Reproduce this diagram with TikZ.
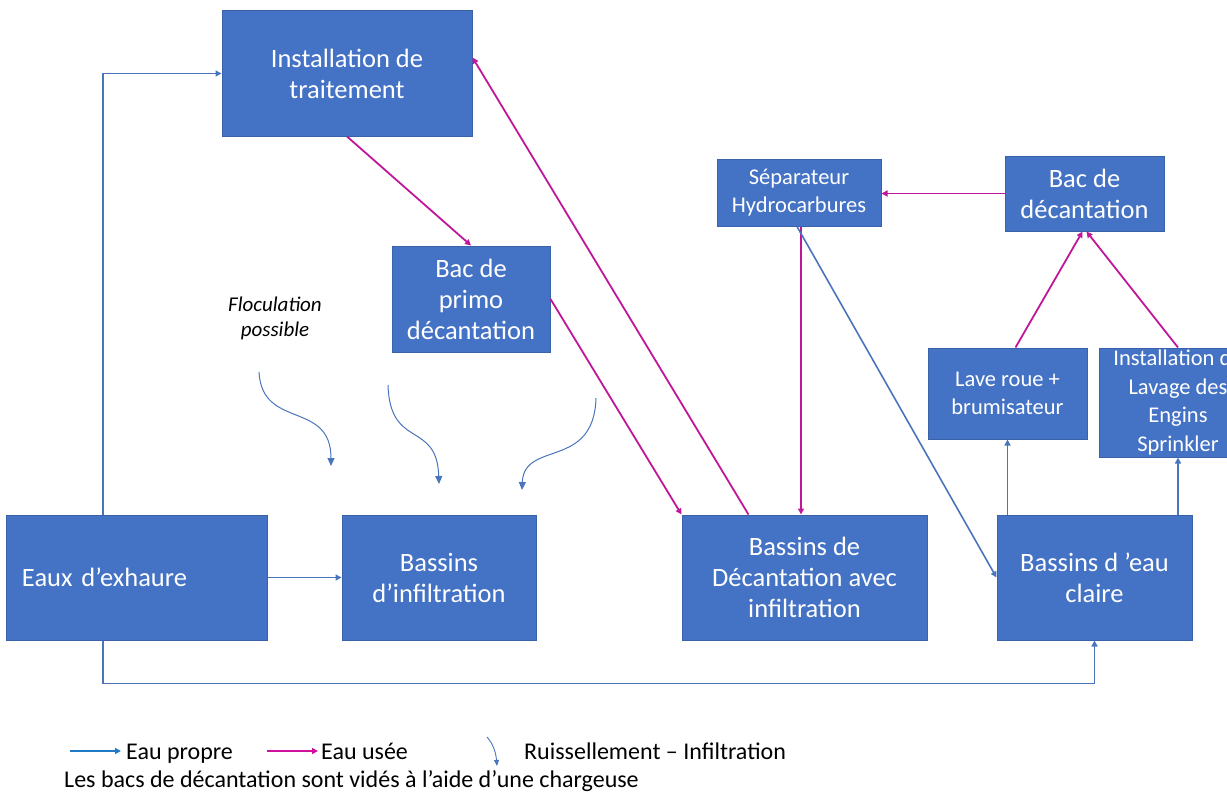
\documentclass[tikz,border=0pt]{standalone}
\usepackage{fontspec}
\setmainfont{Carlito}
\usetikzlibrary{arrows.meta}
\definecolor{boxblue}{HTML}{4472C4}
\definecolor{boxedge}{HTML}{3A62A8}
\definecolor{bleu}{HTML}{4A74BC}
\definecolor{rose}{HTML}{C0169A}
\definecolor{legbleu}{HTML}{1F7AC8}
\definecolor{legrose}{HTML}{D0109C}

\begin{document}
\begin{tikzpicture}[x=1bp,y=-1bp,
        bloc/.style={draw=boxedge,line width=1bp,fill=boxblue,text=white,align=center,inner sep=0pt,font=\fontsize{26.5bp}{31bp}\selectfont},
        petit/.style={bloc,font=\fontsize{22.5bp}{28.5bp}\selectfont},
        eaupropre/.style={draw=bleu,line width=1.6bp,-{Triangle[length=6bp,width=6bp]}},
        eauusee/.style={draw=rose,line width=1.8bp,-{Triangle[length=6bp,width=6bp]}},
        ruissel/.style={draw=bleu,line width=1bp,-{Triangle[length=8bp,width=7bp]}},
        legende/.style={anchor=base west,inner sep=0pt,font=\fontsize{24bp}{28bp}\selectfont}]
        \clip (0,0) rectangle (1227,793);
        \node[bloc,minimum width=250bp,minimum height=125bp] (inst) at (347,73.5) {Installation de\\traitement};
        \node[bloc,minimum width=158bp,minimum height=106bp] (primo) at (471,299) {Bac de\\primo\\décantation};
        \node[bloc,minimum width=260bp,minimum height=125bp,text width=230bp,align=left] (eaux) at (137,577.5) {Eaux d’exhaure};
        \node[bloc,minimum width=194bp,minimum height=125bp] (infil) at (439,577.5) {Bassins\\d’infiltration};
        \node[bloc,minimum width=245bp,minimum height=125bp] (decant) at (804.5,577.5) {Bassins de\\Décantation avec\\infiltration};
        \node[bloc,minimum width=195bp,minimum height=125bp] (claire) at (1094.5,577.5) {Bassins d ’eau\\claire};
        \node[petit,minimum width=164bp,minimum height=67bp] (sep) at (799,192.5) {Séparateur\\Hydrocarbures};
        \node[bloc,minimum width=159bp,minimum height=75bp] (bacd) at (1084.5,193.5) {Bac de\\décantation};
        \node[petit,minimum width=159bp,minimum height=91bp] (lave) at (1007.5,393.5) {Lave roue +\\brumisateur};
        \node[petit,minimum width=158bp,minimum height=109bp] (lavage) at (1178,402.5) {Installation de\\Lavage des\\Engins\\Sprinkler};
        \node[align=center,font=\fontsize{21bp}{25bp}\selectfont\itshape] (flocu) at (275,318.5) {Floculation\\possible};

        \draw[eaupropre] ([xshift=-34bp]eaux.north) |- (inst.west);
        \draw[eaupropre] (eaux.east) -- (infil.west);
        \draw[eaupropre] ([xshift=-34bp]eaux.south) -- ++(0,43) -| (claire.south);
        \draw[eauusee] (inst.south) -- (primo.north);
        \draw[eauusee] (primo.east) -- (decant.north west);
        \draw[eauusee] ([xshift=-56bp]decant.north) -- ([yshift=-47bp]inst.north east);
        \draw[eauusee] ([xshift=2bp]sep.south) -- ([xshift=2bp]sep.south |- decant.north);
        \draw[eaupropre] ([xshift=-2bp]sep.south) -- (claire.west);
        \draw[eauusee] (bacd.west) -- (bacd.west -| sep.east);
        \draw[eauusee] ([xshift=8bp]lave.north) -- ([xshift=-2bp]bacd.south);
        \draw[eauusee] (lavage.north) -- ([xshift=2bp]bacd.south);
        \draw[eaupropre] (claire.north -| lave.south) -- (lave.south);
        \draw[eaupropre] (claire.north -| lavage.south) -- (lavage.south);

        \draw[ruissel] (259,372) .. controls (262,430) and (331,400) .. (331,466);
        \draw[ruissel] (388,385) .. controls (390,450) and (437,420) .. (439,484);
        \draw[ruissel] (596,398) .. controls (594,470) and (524,440) .. (522,490);

        \draw[legbleu,line width=1.6bp,-{Triangle[length=6bp,width=6bp]}] (70,751) -- (121,751);
        \node[legende] (propre) at (126,759) {Eau propre};
        \draw[legrose,line width=1.6bp,-{Triangle[length=6bp,width=6bp]}] (267,751) -- (318,751);
        \node[legende] (usee) at (321,759) {Eau usée};
        \draw[bleu,line width=0.9bp,-{Triangle[length=6bp,width=5bp]}] (487,737) .. controls (494,745) and (496,754) .. (497,766);
        \node[legende] (ruis) at (524,759) {Ruissellement – Infiltration};
        \node[legende] (note) at (64,787) {Les bacs de décantation sont vidés à l’aide d’une chargeuse};
    \end{tikzpicture}
\end{document}
